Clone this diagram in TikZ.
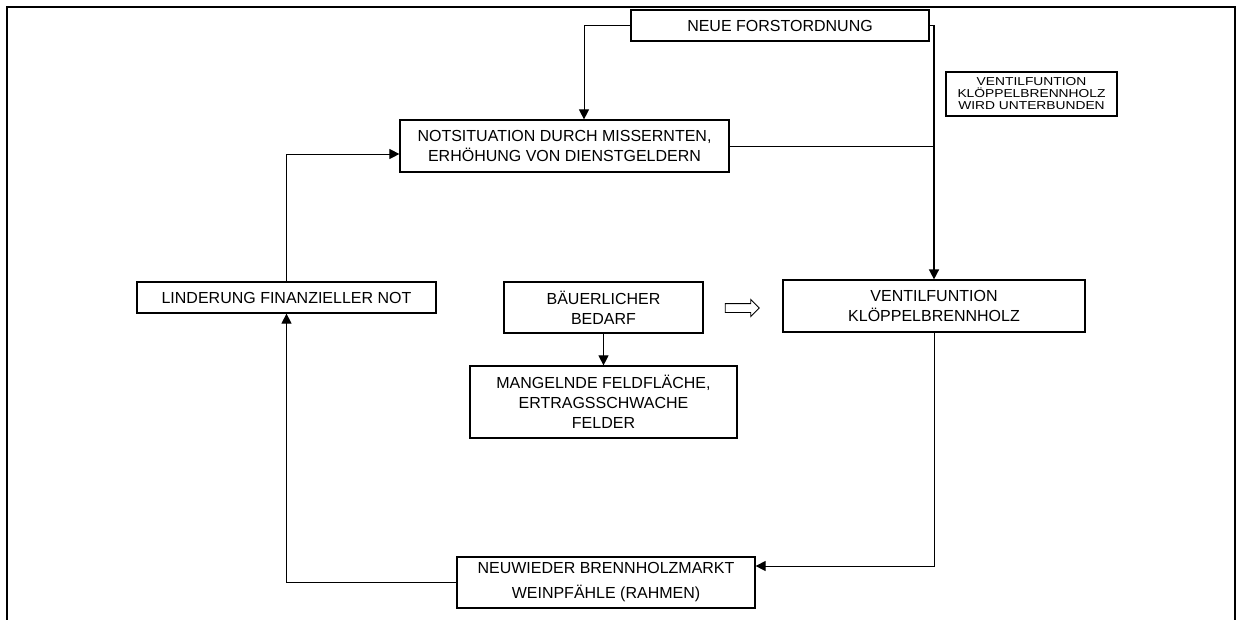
\documentclass[tikz,border=0pt]{standalone}
\usepackage{fontspec}
\setmainfont{Liberation Sans}
\newfontfamily\breit[FakeStretch=1.2]{Liberation Sans}
\usetikzlibrary{arrows.meta,shapes.arrows}
\tikzset{box/.style={draw,line width=1.2pt,align=center,inner sep=0pt,font=\fontsize{16}{20}\selectfont}}

\begin{document}
\begin{tikzpicture}[x=1pt,y=-1pt,
        link/.style={line width=1pt},
        flow/.style={link,-{Triangle[length=10pt,width=10pt]}},
        note/.style={box,font=\breit\fontsize{11.5}{12}\selectfont}]
    \useasboundingbox (0,0) rectangle (1238,619);
    % frame, open at the bottom
    \draw[line width=2.5pt] (7,625) -- (7,7) -- (1235,7) -- (1235,625);

    \node[box,minimum width=298pt,minimum height=31pt] (neue) at (780,25.5) {NEUE FORSTORDNUNG};
    \node[note,minimum width=171pt,minimum height=44pt] (hinweis) at (1031.5,94) {VENTILFUNTION\\KLÖPPELBRENNHOLZ\\WIRD UNTERBUNDEN};
    \node[box,minimum width=329pt,minimum height=52pt] (not) at (564.5,146) {NOTSITUATION DURCH MISSERNTEN,\\ERHÖHUNG VON DIENSTGELDERN};
    \node[box,minimum width=299pt,minimum height=31pt] (linderung) at (286.5,297.5) {LINDERUNG FINANZIELLER NOT};
    \node[box,minimum width=199pt,minimum height=51pt] (bedarf) at (603.5,307.5) {BÄUERLICHER\\BEDARF};
    \node[box,minimum width=302pt,minimum height=52pt] (ventil) at (934,306) {VENTILFUNTION\\KLÖPPELBRENNHOLZ};
    \node[box,minimum width=267pt,minimum height=72pt] (mangel) at (603.5,402) {MANGELNDE FELDFLÄCHE,\\ERTRAGSSCHWACHE\\FELDER};
    \node[box,minimum width=298pt,minimum height=51pt] (markt) at (606,582.5) {NEUWIEDER BRENNHOLZMARKT\\[5pt]WEINPFÄHLE (RAHMEN)};
    \node[draw,single arrow,line width=0.9pt,inner sep=4pt,minimum height=34pt,single arrow head extend=4pt] (pfeil) at (740,308) {};

    \draw[flow] (neue.west) -| ([xshift=19.5pt]not.north);
    \draw[flow,line width=1.5pt] (neue.east) -| (ventil.north);
    \draw[link] (not.east) -- (not.east -| ventil.north);
    \draw[flow] (linderung.north) |- ([yshift=-8pt]not.west);
    \draw[flow] (markt.west) -| (linderung.south);
    \draw[flow] (ventil.south) |- ([yshift=16.5pt]markt.east);
    \draw[flow] (bedarf) -- (mangel);
\end{tikzpicture}
\end{document}
